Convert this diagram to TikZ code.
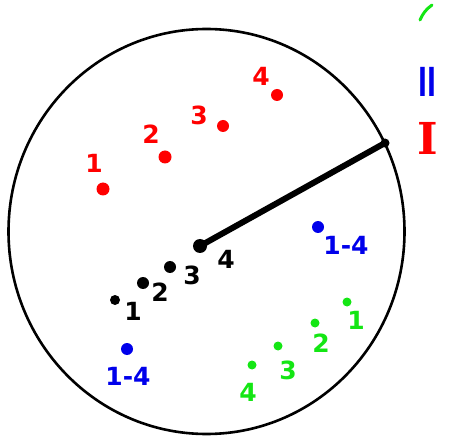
\documentclass[tikz,border=0pt]{standalone}
\usepackage{fontspec}
\setmainfont{DejaVu Sans}
\newfontfamily\serifI{DejaVu Serif}
\usetikzlibrary{shapes.geometric}
\begin{document}
\begin{tikzpicture}[x=1pt,y=-1pt,
  dot/.style={circle,fill,inner sep=0pt,minimum size=10pt},
  lbl/.style={font=\fontsize{25}{25}\selectfont\bfseries,inner sep=0pt},
]
\definecolor{ptred}{RGB}{255,0,0}
\definecolor{ptblue}{RGB}{0,0,235}
\definecolor{ptgreen}{RGB}{20,230,20}
\useasboundingbox (0,0) rectangle (457,443);
% circle
\node[draw,ellipse,minimum width=396pt,minimum height=405pt,line width=2.6pt,inner sep=0pt] (circ) at (206.5,231.5) {};
% radius
\node[dot,minimum size=14pt] (c) at (200,246) {};
\node[dot,minimum size=9pt] (e) at (385,143) {};
\draw[line width=6pt] (c.center) -- (e.center);
% red
\begin{scope}[every node/.append style={text=ptred}]
\node[dot,fill=ptred,minimum size=13pt] (r1) at (103,189) {};
\node[lbl] (r1l) at (94,163) {1};
\node[dot,fill=ptred,minimum size=13pt] (r2) at (165,157) {};
\node[lbl] (r2l) at (151,134) {2};
\node[dot,fill=ptred,minimum size=12pt] (r3) at (223,126) {};
\node[lbl] (r3l) at (199,115) {3};
\node[dot,fill=ptred,minimum size=12pt] (r4) at (277,95) {};
\node[lbl] (r4l) at (261,76) {4};
\node[font=\fontsize{44}{44}\selectfont\serifI\bfseries,inner sep=0pt] (I1) at (428,138) {I};
\end{scope}
% black
\node[dot] (b1) at (115,300) {};
\node[lbl] (b1l) at (133,311) {1};
\node[dot,minimum size=12pt] (b2) at (143,283) {};
\node[lbl] (b2l) at (160,292) {2};
\node[dot,minimum size=12pt] (b3) at (170,267) {};
\node[lbl] (b3l) at (192,275) {3};
\node[lbl] (b4l) at (226,259) {4};
% blue
\begin{scope}[every node/.append style={text=ptblue}]
\node[dot,fill=ptblue,minimum size=12pt] (u1) at (318,227) {};
\node[lbl] (u1l) at (346,245) {1-4};
\node[dot,fill=ptblue,minimum size=12pt] (u2) at (127,349) {};
\node[lbl] (u2l) at (128,376) {1-4};
\node[font=\fontsize{40}{40}\selectfont\bfseries,inner sep=0pt,xscale=0.6] (I2) at (427,82) {II};
\end{scope}
% green
\begin{scope}[every node/.append style={text=ptgreen}]
\node[dot,fill=ptgreen,minimum size=9pt] (g1) at (347,302) {};
\node[lbl] (g1l) at (356,320) {1};
\node[dot,fill=ptgreen,minimum size=9pt] (g2) at (315,323) {};
\node[lbl] (g2l) at (321,343) {2};
\node[dot,fill=ptgreen,minimum size=9pt] (g3) at (278,346) {};
\node[lbl] (g3l) at (288,370) {3};
\node[dot,fill=ptgreen,minimum size=9pt] (g4) at (252,365) {};
\node[lbl] (g4l) at (248,392) {4};
\end{scope}
\coordinate (gs1) at (420,20);
\coordinate (gs2) at (432,5);
\draw[ptgreen,line width=3pt,line cap=round] (gs1) to[bend left=15] (gs2);
\end{tikzpicture}
\end{document}
